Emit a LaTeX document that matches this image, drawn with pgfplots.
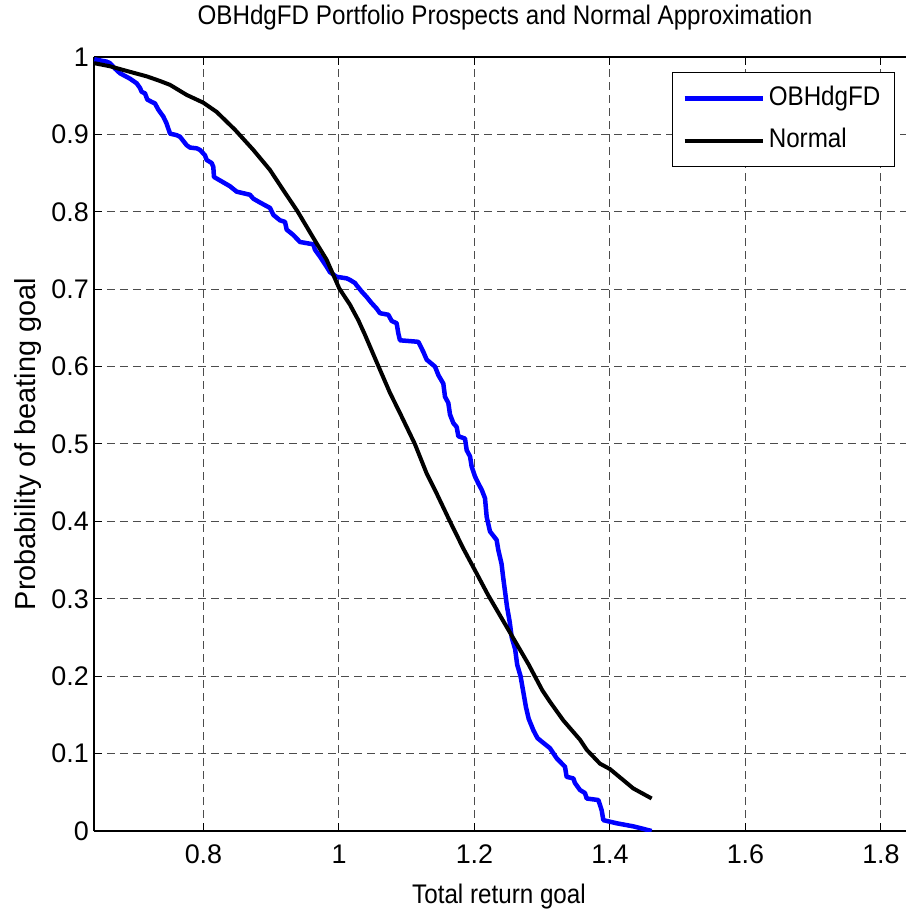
\documentclass[border=0pt]{standalone}
\usepackage{fontspec}
\setmainfont{Liberation Sans}
\newfontfamily\narrowfont{Liberation Sans}[FakeStretch=0.9]
\usepackage{pgfplots}
\pgfplotsset{compat=1.18}
\definecolor{mblue}{RGB}{0,0,255}
\newcommand\txt{\fontsize{27}{32}\selectfont}

\begin{document}
\begin{tikzpicture}
\begin{axis}[
  name=ax, at={(0,0)}, anchor=south west,
  scale only axis, width=822bp, height=774bp,
  xmin=0.6384, xmax=1.8517, ymin=0, ymax=1,
  axis x line*=box, axis y line*=left,
  xtick={0.8,1,1.2,1.4,1.6,1.8},
  ytick={0,0.1,0.2,0.3,0.4,0.5,0.6,0.7,0.8,0.9,1},
  tick align=inside, major tick length=8bp,
  every tick/.style={black, line width=1bp},
  axis line style={black, line width=1.5bp, -},
  grid=major,
  major grid style={black!70, line width=1bp, dash pattern=on 8bp off 5bp},
  /pgf/number format/assume math mode=true,
  ticklabel style={font=\txt},
  xticklabel style={inner sep=0pt, anchor=north, yshift=-14bp},
  yticklabel style={inner sep=0pt, anchor=east, xshift=-5bp},
  title={OBHdgFD Portfolio Prospects and Normal Approximation},
  title style={at={(axis description cs:0.5,1.0349)}, anchor=base, font=\narrowfont\txt, inner sep=0pt},
  xlabel={Total return goal},
  xlabel style={at={(axis description cs:0.4927,-0.0943)}, anchor=base, font=\narrowfont\txt, inner sep=0pt},
  ylabel={Probability of beating goal},
  ylabel style={at={(axis description cs:-0.0706,0.5)}, anchor=base, font=\fontsize{29}{34}\selectfont, inner sep=0pt},
  legend image code/.code={\draw[#1] (0bp,0bp) -- (78bp,0bp);},
  legend cell align=left,
  legend style={at={(axis description cs:0.9745,0.9806)}, anchor=north east,
    draw=black, line width=1.2bp, fill=white, inner xsep=10bp, inner ysep=12bp,
    row sep=14bp, font=\narrowfont\txt,
    nodes={inner xsep=4bp, inner ysep=2bp, text height=19bp, text depth=5bp}},
]
\addplot[mblue, line width=4.5bp, line join=round] coordinates {
(0.6389,0.997) (0.6571,0.994) (0.6620,0.992) (0.6694,0.985) (0.6768,0.979)
(0.6915,0.972) (0.7014,0.966) (0.7063,0.960) (0.7087,0.955) (0.7137,0.953)
(0.7171,0.945) (0.7235,0.942) (0.7284,0.940) (0.7333,0.932) (0.7407,0.923)
(0.7456,0.914) (0.7506,0.901) (0.7604,0.899) (0.7653,0.897) (0.7752,0.886)
(0.7801,0.883) (0.7899,0.882) (0.7948,0.880) (0.8022,0.873) (0.8047,0.867)
(0.8121,0.863) (0.8145,0.858) (0.8155,0.845) (0.8194,0.843) (0.8293,0.838)
(0.8391,0.833) (0.8490,0.826) (0.8588,0.824) (0.8686,0.822) (0.8735,0.817)
(0.8834,0.812) (0.8982,0.805) (0.9031,0.796) (0.9129,0.789) (0.9203,0.787)
(0.9228,0.777) (0.9326,0.770) (0.9424,0.761) (0.9621,0.758) (0.9646,0.751)
(0.9720,0.742) (0.9818,0.729) (0.9867,0.722) (0.9966,0.716) (1.0113,0.714)
(1.0162,0.712) (1.0236,0.708) (1.0261,0.705) (1.0335,0.697) (1.0408,0.690)
(1.0482,0.682) (1.0556,0.675) (1.0605,0.669) (1.0728,0.667) (1.0778,0.659)
(1.0851,0.656) (1.0876,0.643) (1.0900,0.634) (1.1171,0.632) (1.1245,0.619)
(1.1294,0.609) (1.1417,0.600) (1.1467,0.589) (1.1540,0.578) (1.1565,0.561)
(1.1614,0.553) (1.1639,0.538) (1.1688,0.527) (1.1737,0.522) (1.1762,0.510)
(1.1860,0.507) (1.1885,0.492) (1.1934,0.484) (1.1958,0.471) (1.2008,0.458)
(1.2057,0.449) (1.2106,0.441) (1.2155,0.430) (1.2180,0.406) (1.2229,0.387)
(1.2327,0.376) (1.2352,0.363) (1.2400,0.345) (1.2420,0.330) (1.2450,0.310)
(1.2480,0.290) (1.2520,0.270) (1.2550,0.250) (1.2600,0.235) (1.2630,0.215)
(1.2680,0.200) (1.2720,0.180) (1.2760,0.160) (1.2800,0.145) (1.2870,0.130)
(1.2930,0.120) (1.3000,0.115) (1.3114,0.107) (1.3213,0.094) (1.3336,0.083)
(1.3360,0.070) (1.3459,0.068) (1.3483,0.062) (1.3557,0.053) (1.3631,0.049)
(1.3656,0.042) (1.3828,0.040) (1.3877,0.027) (1.3902,0.014) (1.4098,0.010)
(1.4344,0.006) (1.4615,0.000)
};
\addlegendentry{OBHdgFD}
\addplot[black, line width=4bp, line join=round] coordinates {
(0.6388,0.992) (0.6620,0.988) (0.6866,0.982) (0.7162,0.975) (0.7358,0.969)
(0.7506,0.964) (0.7752,0.951) (0.7997,0.941) (0.8195,0.929) (0.8465,0.906)
(0.8735,0.880) (0.8982,0.854) (0.9178,0.828) (0.9385,0.801) (0.9671,0.759)
(0.9818,0.738) (1.0004,0.701) (1.0162,0.680) (1.0285,0.660) (1.0384,0.641)
(1.0580,0.601) (1.0753,0.566) (1.0900,0.540) (1.1120,0.500) (1.1294,0.462)
(1.1442,0.436) (1.1638,0.400) (1.1835,0.365) (1.2000,0.338) (1.2200,0.305)
(1.2400,0.275) (1.2600,0.245) (1.2800,0.215) (1.3000,0.182) (1.3114,0.167)
(1.3310,0.143) (1.3557,0.118) (1.3656,0.105) (1.3852,0.087) (1.4000,0.080)
(1.4344,0.055) (1.4615,0.042)
};
\addlegendentry{Normal}
\end{axis}
\pgfresetboundingbox
\path[use as bounding box] (ax.south west) ++(-94bp,-80bp) rectangle ++(906bp,911bp);
\end{tikzpicture}
\end{document}
